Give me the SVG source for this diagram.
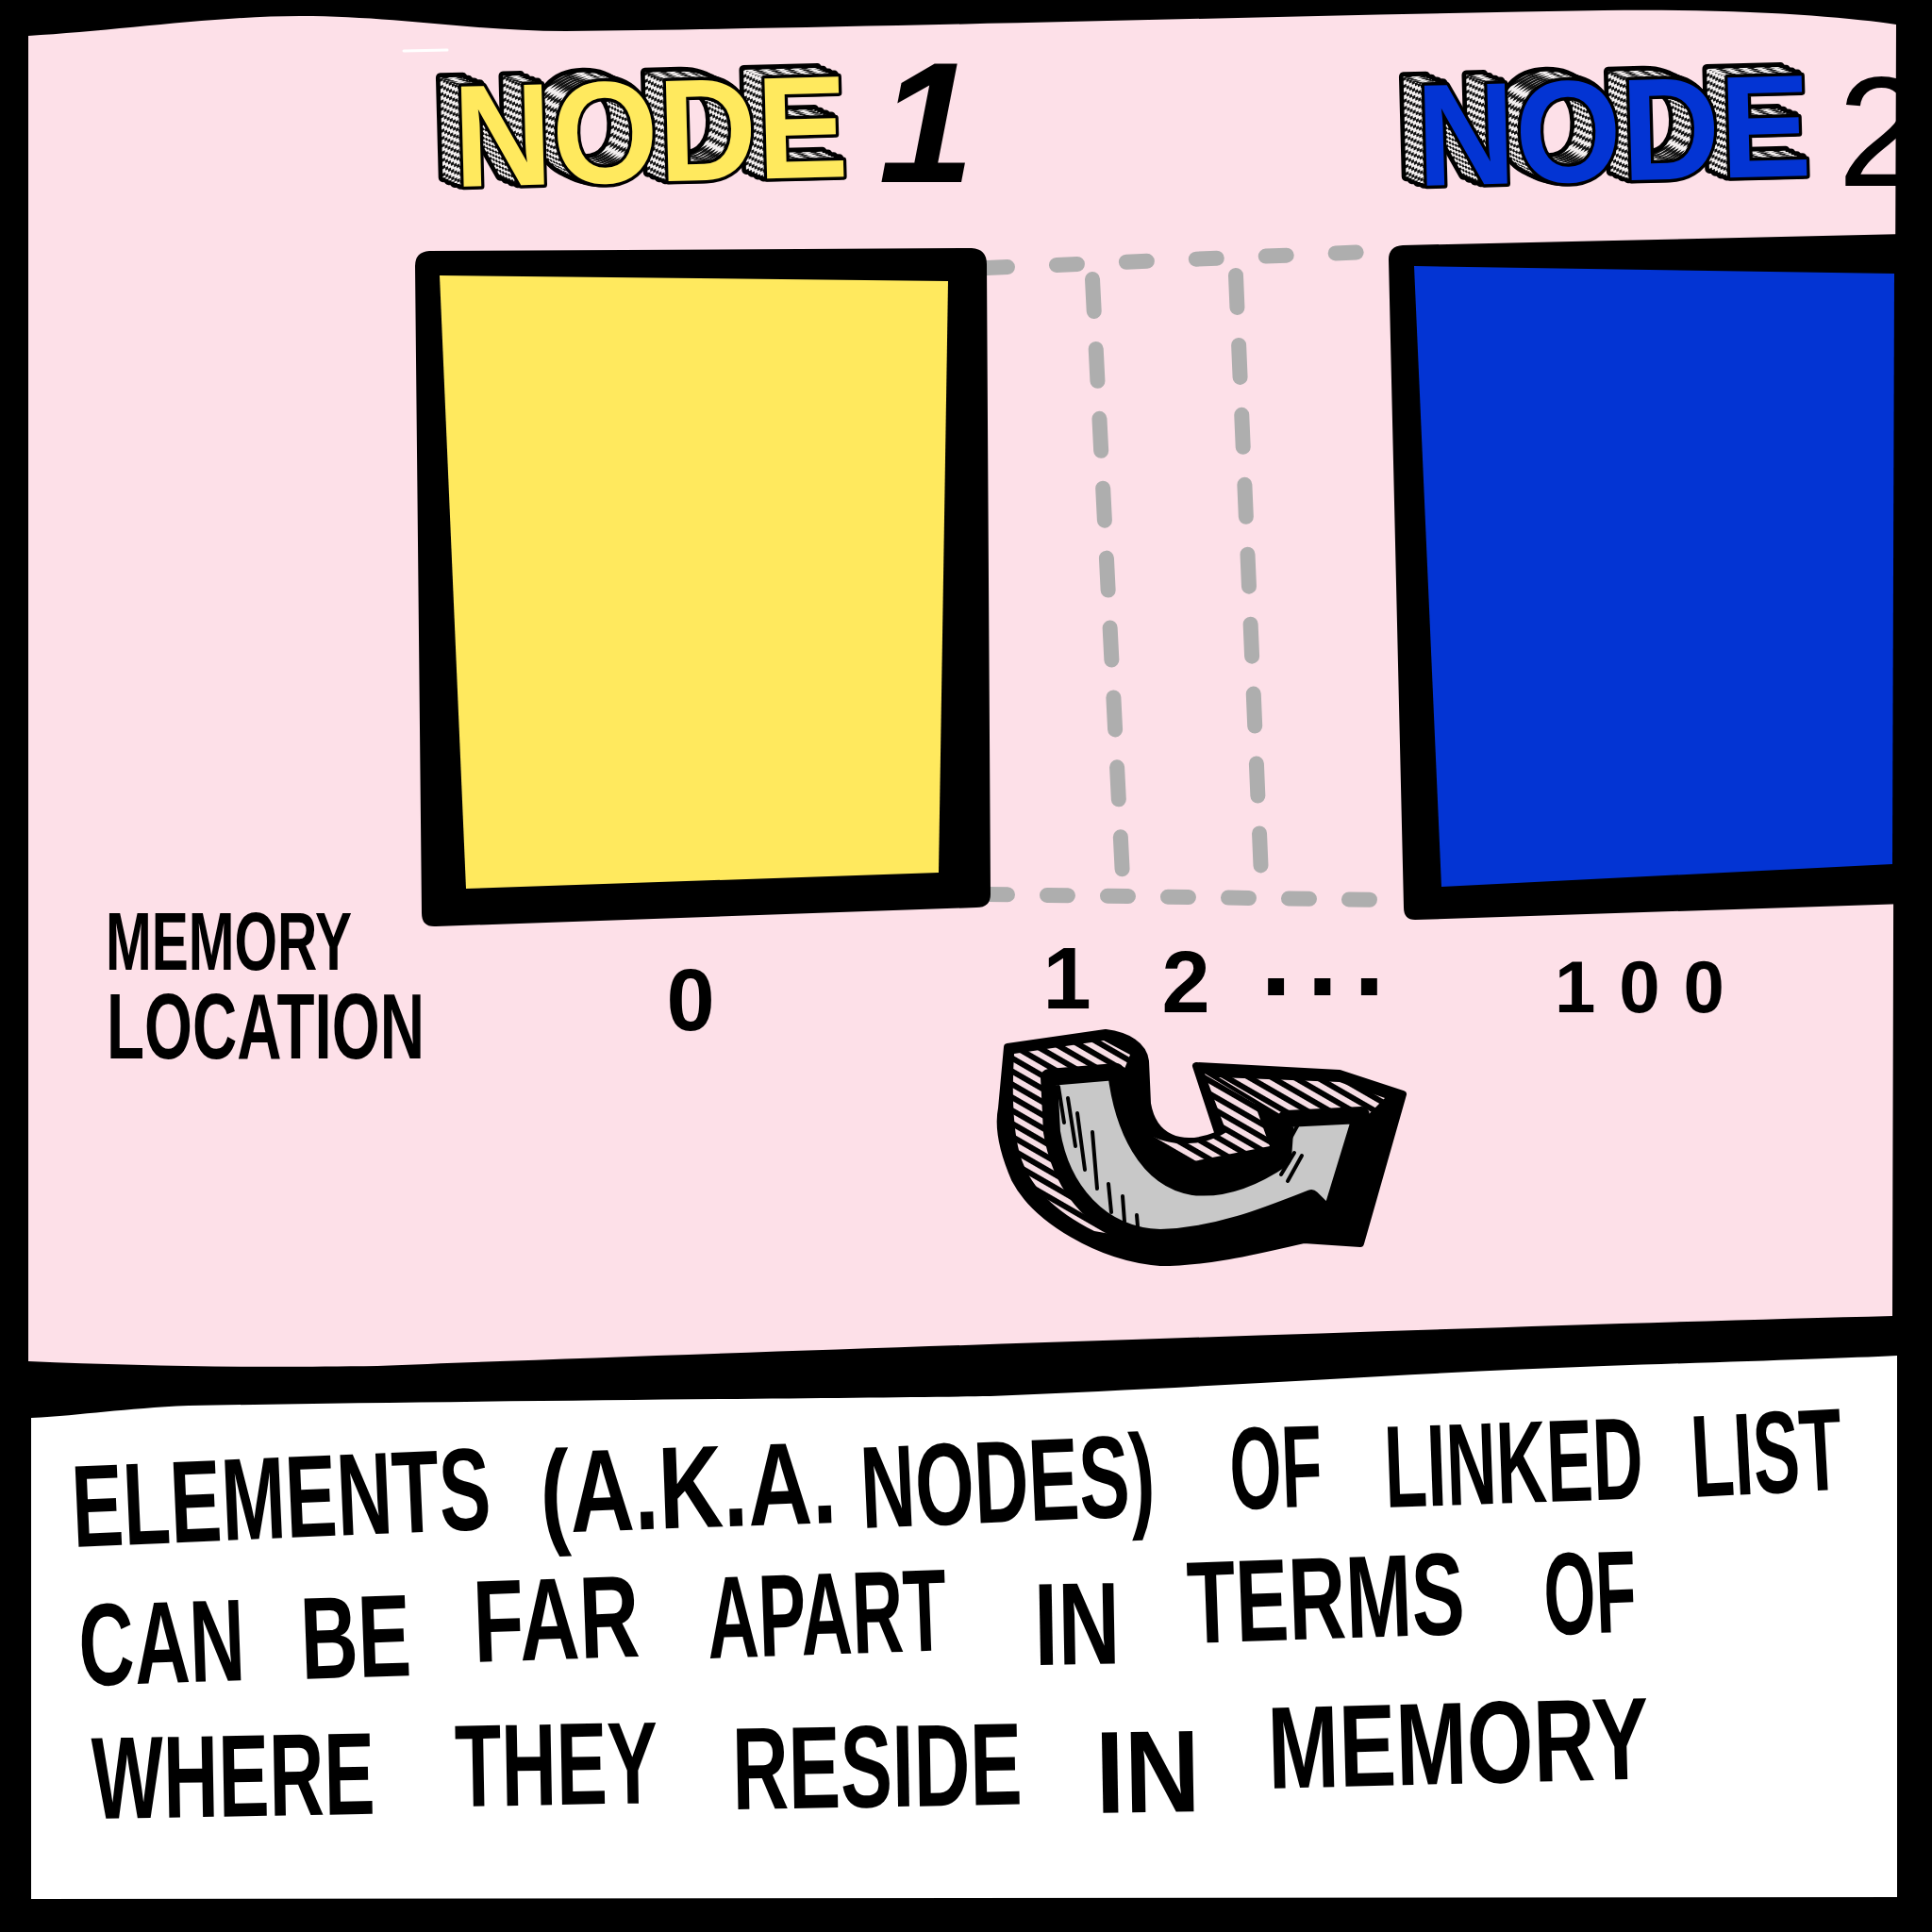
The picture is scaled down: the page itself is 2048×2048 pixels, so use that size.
<svg xmlns="http://www.w3.org/2000/svg" xmlns:xlink="http://www.w3.org/1999/xlink" width="2048" height="2048" viewBox="0 0 2048 2048">
<style>
.hand{font-family:"Liberation Sans",Arial,sans-serif;font-weight:700;fill:#000}
.cap{font-size:124px}
.nw{font-family:"Liberation Sans",Arial,sans-serif;font-weight:700;font-size:154px}
.ext-s{fill:#000;stroke:#000;stroke-width:10;stroke-linejoin:round}
.ext-f{fill:url(#hatchL);stroke:none}
.face1{fill:#ffe95e;stroke:#000;stroke-width:7;stroke-linejoin:round;paint-order:stroke}
.face2{fill:#0334d3;stroke:#000;stroke-width:7;stroke-linejoin:round;paint-order:stroke}
.dash{fill:none;stroke:#aeaeae;stroke-width:16;stroke-linecap:round}
.ink{fill:none;stroke:#000;stroke-linecap:round;stroke-linejoin:round}
</style>
<defs>
<pattern id="hatchL" patternUnits="userSpaceOnUse" width="7" height="7" patternTransform="rotate(-25)">
<rect width="7" height="7" fill="#f4f0f0"/><rect width="7" height="3" fill="#111"/>
</pattern>
<pattern id="hatchA" patternUnits="userSpaceOnUse" width="12" height="12" patternTransform="rotate(30)">
<rect width="12" height="12" fill="#f6dde4"/><rect width="12" height="6" fill="#000"/>
</pattern>
<text id="nodeword" class="nw" x="0" y="0" textLength="418" lengthAdjust="spacingAndGlyphs">NODE</text>
</defs>

<!-- frame -->
<g id="frame">
<rect x="0" y="0" width="2048" height="2048" fill="#000"/>
<path d="M30,38 C120,33 230,17 318,17 C420,17 500,33 600,33 C900,30 1300,18 1700,11 C1850,9 1960,18 2010,26 L2008,600 L2006,1395 C1800,1400 1500,1410 1200,1420 C900,1430 600,1440 400,1448 C250,1450 150,1448 30,1443 Z" fill="#fde0e8"/>
<path d="M33,1503 C90,1500 130,1493 200,1490 C500,1485 900,1482 1050,1480 C1300,1470 1500,1455 1700,1448 C1850,1443 1950,1440 2011,1437 L2011,2011 L33,2013 Z" fill="#fff"/>
<path d="M428,54 L474,53" stroke="#fff" stroke-width="3" stroke-linecap="round"/>
</g>

<!-- memory slots between nodes -->
<g id="memory-slots">
<path class="dash" d="M1046,284 L1474,266" stroke-dasharray="22 52"/>
<path class="dash" d="M1046,948 L1474,954" stroke-dasharray="22 42"/>
<path class="dash" d="M1158,296 L1190,930" stroke-dasharray="34 40" stroke-width="15"/>
<path class="dash" d="M1310,292 L1337,930" stroke-dasharray="34 40" stroke-width="15"/>
</g>

<!-- node 1 -->
<g id="node1">
<path d="M455,266 L1030,263 Q1046,264 1046,280 L1050,948 Q1050,962 1035,962 L462,982 Q447,983 447,968 L440,282 Q440,267 455,266 Z" fill="#000"/>
<path d="M466,292 L1005,298 L995,925 L494,942 Z" fill="#ffe95e"/>
<g transform="translate(482,198) rotate(-1.5)">
<use xlink:href="#nodeword" x="-22" y="-10" class="ext-s"/>
<use xlink:href="#nodeword" x="-16" y="-7" class="ext-s"/>
<use xlink:href="#nodeword" x="-10" y="-4" class="ext-s"/>
<use xlink:href="#nodeword" x="-4" y="-2" class="ext-s"/>
<use xlink:href="#nodeword" x="-22" y="-10" class="ext-f"/>
<use xlink:href="#nodeword" x="-19" y="-8.5" class="ext-f"/>
<use xlink:href="#nodeword" x="-16" y="-7" class="ext-f"/>
<use xlink:href="#nodeword" x="-13" y="-5.5" class="ext-f"/>
<use xlink:href="#nodeword" x="-10" y="-4" class="ext-f"/>
<use xlink:href="#nodeword" x="-7" y="-3" class="ext-f"/>
<use xlink:href="#nodeword" x="-4" y="-2" class="ext-f"/>
<use xlink:href="#nodeword" x="0" y="0" class="face1"/>
</g>
<text x="982" y="193" text-anchor="middle" font-family="Liberation Sans, Arial, sans-serif" font-weight="700" font-style="italic" font-size="182" fill="#000">1</text>
</g>

<!-- node 2 -->
<g id="node2">
<path d="M1487,260 L2020,248 L2020,958 L1500,975 Q1488,975 1488,962 L1472,275 Q1472,261 1487,260 Z" fill="#000"/>
<path d="M1499,282 L2008,290 L2006,916 L1528,940 Z" fill="#0334d3"/>
<g transform="translate(1503,197) rotate(-1.5)">
<use xlink:href="#nodeword" x="-22" y="-10" class="ext-s"/>
<use xlink:href="#nodeword" x="-16" y="-7" class="ext-s"/>
<use xlink:href="#nodeword" x="-10" y="-4" class="ext-s"/>
<use xlink:href="#nodeword" x="-4" y="-2" class="ext-s"/>
<use xlink:href="#nodeword" x="-22" y="-10" class="ext-f"/>
<use xlink:href="#nodeword" x="-19" y="-8.5" class="ext-f"/>
<use xlink:href="#nodeword" x="-16" y="-7" class="ext-f"/>
<use xlink:href="#nodeword" x="-13" y="-5.5" class="ext-f"/>
<use xlink:href="#nodeword" x="-10" y="-4" class="ext-f"/>
<use xlink:href="#nodeword" x="-7" y="-3" class="ext-f"/>
<use xlink:href="#nodeword" x="-4" y="-2" class="ext-f"/>
<use xlink:href="#nodeword" x="0" y="0" class="face2"/>
</g>
<text x="1948" y="197" font-family="Liberation Sans, Arial, sans-serif" font-weight="400" font-size="166" fill="#000">2</text>
</g>

<!-- memory location labels -->
<g id="labels">
<text class="hand" x="112" y="1028" font-size="88" textLength="261" lengthAdjust="spacingAndGlyphs">MEMORY</text>
<text class="hand" x="113" y="1122" font-size="98" textLength="337" lengthAdjust="spacingAndGlyphs">LOCATION</text>
<text class="hand" x="732" y="1092" font-size="92" text-anchor="middle">0</text>
<text class="hand" x="1131" y="1069" font-size="92" text-anchor="middle">1</text>
<text class="hand" x="1257" y="1073" font-size="92" text-anchor="middle">2</text>
<text class="hand" x="1336" y="1055" font-size="120" letter-spacing="16">...</text>
<text class="hand" x="1648" y="1073" font-size="78" textLength="180" lengthAdjust="spacing">100</text>
</g>

<!-- connectors: curved arrow -->
<g id="connectors">
<path d="M1068,1110 L1172,1095 C1195,1098 1212,1108 1214,1125 L1216,1170 C1222,1205 1250,1220 1292,1203 L1268,1130 L1420,1138 L1487,1160 L1442,1318 L1382,1314 C1330,1326 1280,1338 1230,1338 C1165,1333 1098,1292 1076,1250 C1063,1220 1058,1195 1062,1175 Z" fill="#000" stroke="#000" stroke-width="8" stroke-linejoin="round"/>
<path d="M1075,1117 L1170,1103 L1198,1118 L1190,1138 L1112,1144 L1110,1200 C1118,1250 1150,1290 1200,1312 L1160,1305 C1110,1280 1086,1250 1079,1215 C1073,1185 1073,1150 1075,1117 Z" fill="url(#hatchA)"/>
<path d="M1277,1138 L1330,1170 L1346,1215 L1260,1232 L1222,1205 C1250,1218 1282,1212 1300,1200 Z" fill="url(#hatchA)"/>
<path d="M1292,1142 L1420,1147 L1468,1164 L1450,1182 L1365,1186 Z" fill="url(#hatchA)"/>
<path d="M1112,1142 L1183,1136 C1190,1195 1215,1250 1265,1258 C1300,1262 1335,1245 1360,1228 L1363,1186 L1443,1182 L1410,1290 L1390,1270 C1340,1290 1290,1310 1230,1312 C1165,1310 1125,1260 1115,1200 Z" fill="#c8c8c8" stroke="#000" stroke-width="18" stroke-linejoin="round"/>
<g class="ink" stroke-width="4">
<path d="M1122,1152 L1128,1190"/>
<path d="M1132,1164 L1140,1215"/>
<path d="M1142,1180 L1150,1240"/>
<path d="M1158,1200 L1163,1260"/>
<path d="M1175,1255 L1178,1285"/>
<path d="M1190,1268 L1192,1295"/>
<path d="M1205,1288 L1206,1300"/>
<path d="M1366,1210 L1376,1192"/>
<path d="M1358,1245 L1372,1222"/>
<path d="M1365,1252 L1380,1225"/>
</g>
</g>

<!-- caption -->
<g id="caption" class="hand cap">
<text x="78" y="1640" textLength="444" lengthAdjust="spacingAndGlyphs" transform="rotate(-2.5 78 1640)">ELEMENTS</text>
<text x="574" y="1625" textLength="314" lengthAdjust="spacingAndGlyphs" transform="rotate(-2 574 1625)">(A.K.A.</text>
<text x="914" y="1620" textLength="312" lengthAdjust="spacingAndGlyphs" transform="rotate(-2.5 914 1620)">NODES)</text>
<text x="1305" y="1600" textLength="98" lengthAdjust="spacingAndGlyphs" transform="rotate(-2 1305 1600)">OF</text>
<text x="1469" y="1598" textLength="274" lengthAdjust="spacingAndGlyphs" transform="rotate(-2 1469 1598)">LINKED</text>
<text x="1795" y="1587" textLength="160" lengthAdjust="spacingAndGlyphs" transform="rotate(-3 1795 1587)">LIST</text>

<text x="85" y="1787" textLength="176" lengthAdjust="spacingAndGlyphs" transform="rotate(-2 85 1787)">CAN</text>
<text x="320" y="1780" textLength="117" lengthAdjust="spacingAndGlyphs" transform="rotate(-2 320 1780)">BE</text>
<text x="503" y="1762" textLength="176" lengthAdjust="spacingAndGlyphs" transform="rotate(-2 503 1762)">FAR</text>
<text x="751" y="1758" textLength="254" lengthAdjust="spacingAndGlyphs" transform="rotate(-2 751 1758)">APART</text>
<text x="1097" y="1765" textLength="91" lengthAdjust="spacingAndGlyphs" transform="rotate(-1 1097 1765)">IN</text>
<text x="1260" y="1742" textLength="294" lengthAdjust="spacingAndGlyphs" transform="rotate(-2 1260 1742)">TERMS</text>
<text x="1638" y="1733" textLength="98" lengthAdjust="spacingAndGlyphs" transform="rotate(-2 1638 1733)">OF</text>

<text x="98" y="1928" textLength="300" lengthAdjust="spacingAndGlyphs" transform="rotate(-1 98 1928)">WHERE</text>
<text x="483" y="1915" textLength="215" lengthAdjust="spacingAndGlyphs" transform="rotate(-1 483 1915)">THEY</text>
<text x="777" y="1918" textLength="307" lengthAdjust="spacingAndGlyphs" transform="rotate(-1 777 1918)">RESIDE</text>
<text x="1162" y="1922" textLength="111" lengthAdjust="spacingAndGlyphs" transform="rotate(-1 1162 1922)">IN</text>
<text x="1345" y="1896" textLength="404" lengthAdjust="spacingAndGlyphs" transform="rotate(-1.5 1345 1896)">MEMORY</text>
</g>
</svg>
